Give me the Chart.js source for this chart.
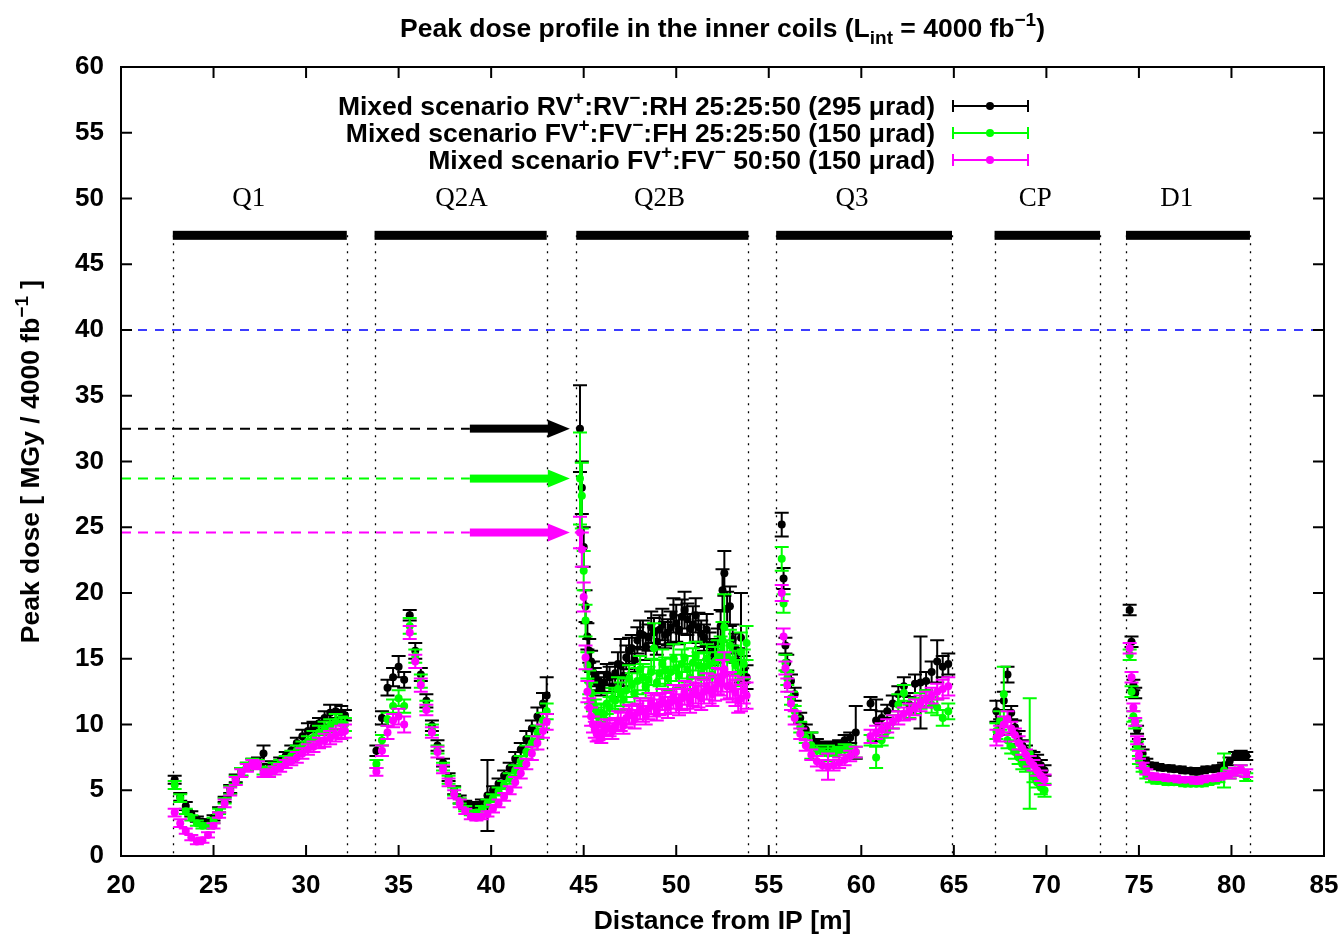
<!DOCTYPE html>
<html>
<head>
<meta charset="utf-8">
<script src="https://cdn.jsdelivr.net/npm/chart.js@4.4.0/dist/chart.umd.min.js"></script>
<style>
	html, body { margin: 0; padding: 0; background: #fff; }
	canvas { display: block; }
</style>
</head>
<body>
<canvas id="chart" width="1342" height="935"></canvas>
<script>
// distance from IP [m], one line per magnet (Q1, Q2A, Q2B, Q3, CP, D1)
const distance = [
	22.9, 23.2, 23.5, 23.8, 24.1, 24.4, 24.7, 25.0, 25.3, 25.6, 25.9, 26.2, 26.5, 26.8, 27.1, 27.4, 27.7, 28.0, 28.3, 28.6, 28.9, 29.2, 29.5, 29.8, 30.1, 30.4, 30.7, 31.0, 31.3, 31.6, 31.9, 32.1,
	33.8, 34.1, 34.4, 34.7, 35.0, 35.3, 35.6, 35.9, 36.2, 36.5, 36.8, 37.1, 37.4, 37.7, 38.0, 38.3, 38.6, 38.9, 39.2, 39.5, 39.8, 40.1, 40.4, 40.7, 41.0, 41.3, 41.6, 41.9, 42.2, 42.5, 42.8, 43.0,
	44.8, 44.9, 45.0, 45.1, 45.2, 45.3, 45.4, 45.5, 45.6, 45.7, 45.8,
	45.95, 46.1, 46.25, 46.4, 46.55, 46.7, 46.85, 47.0, 47.15, 47.3, 47.45, 47.6, 47.75, 47.9, 48.05, 48.2, 48.35, 48.5, 48.65, 48.8,
	48.95, 49.1, 49.25, 49.4, 49.55, 49.7, 49.85, 50.0, 50.15, 50.3, 50.45, 50.6, 50.75, 50.9, 51.05, 51.2, 51.35, 51.5, 51.65, 51.8,
	51.95, 52.1, 52.25, 52.4, 52.5, 52.6, 52.75, 52.9, 53.05, 53.2, 53.35, 53.5, 53.65, 53.8,
	55.7, 55.8, 55.9, 56.0, 56.2, 56.4, 56.7, 57.0, 57.3, 57.6, 57.9, 58.2, 58.5, 58.8, 59.1, 59.4, 59.7, 60.5, 60.8, 61.1, 61.4, 61.7, 62.0, 62.3, 62.6, 62.9, 63.2, 63.5, 63.8, 64.1, 64.4, 64.7,
	67.3, 67.5, 67.7, 67.9, 68.1, 68.3, 68.5, 68.7, 68.9, 69.1, 69.3, 69.5, 69.7, 69.9,
	74.5, 74.6, 74.7, 74.8, 74.9, 75.0, 75.2, 75.4, 75.7, 76.0, 76.3, 76.6, 76.9, 77.2, 77.5, 77.8, 78.1, 78.4, 78.7, 79.0, 79.3, 79.6, 79.9, 80.2, 80.5, 80.8,
];

// RV+:RV-:RH 25:25:50 (295 urad)
const rvDose = [
	5.8, 4.5, 3.8, 3.2, 2.8, 2.6, 2.6, 2.9, 3.5, 4.3, 5.1, 5.9, 6.4, 6.8, 7.1, 7.2, 7.8, 6.7, 6.9, 7.2, 7.6, 8.0, 8.6, 9.1, 9.5, 9.8, 10.1, 10.5, 10.9, 11.0, 10.9, 10.7,
	8.0, 10.5, 12.8, 13.6, 14.4, 13.4, 18.3, 15.6, 13.8, 11.8, 9.9, 8.4, 7.1, 6.0, 5.0, 4.3, 3.9, 3.8, 3.8, 4.0, 4.6, 5.0, 5.5, 6.1, 6.7, 7.4, 8.1, 8.9, 9.7, 10.6, 11.6, 12.2,
	32.5, 28.0, 23.5, 19.0, 16.7, 15.6, 14.8, 14.0, 13.6, 13.2, 13.3,
	12.9, 13.2, 13.8, 13.6, 12.8, 13.9, 14.6, 14.5, 13.7, 15.1, 15.6, 15.8, 14.9, 16.4, 16.9, 16.8, 15.9, 16.6, 17.4, 17.0,
	16.3, 17.2, 17.6, 16.8, 17.0, 17.4, 18.3, 17.7, 17.2, 18.2, 18.7, 18.0, 17.3, 17.6, 18.3, 17.4, 16.9, 16.6, 17.2, 16.0,
	15.4, 15.6, 16.3, 17.5, 20.2, 21.5, 18.8, 19.0, 16.5, 15.8, 14.8, 16.6, 14.2, 13.6,
	25.2, 21.1, 16.0, 14.7, 13.3, 12.3, 10.5, 9.6, 9.0, 8.6, 8.4, 8.3, 8.4, 8.5, 8.8, 9.0, 9.4, 11.6, 10.3, 10.5, 11.0, 11.6, 12.3, 12.9, 11.5, 13.1, 13.2, 13.3, 14.0, 14.8, 14.4, 14.6,
	11.0, 9.8, 11.8, 13.8, 10.9, 9.8, 9.0, 8.4, 8.0, 7.6, 7.5, 7.3, 6.9, 6.5,
	18.7, 16.3, 13.0, 12.4, 9.6, 8.6, 7.8, 7.2, 6.9, 6.8, 6.7, 6.7, 6.6, 6.6, 6.5, 6.5, 6.4, 6.5, 6.6, 6.6, 6.7, 6.9, 7.2, 7.6, 7.7, 7.6,
];
const rvErr = [
	0.3, 0.3, 0.3, 0.2, 0.2, 0.2, 0.2, 0.2, 0.2, 0.2, 0.3, 0.3, 0.3, 0.3, 0.3, 0.3, 0.6, 0.3, 0.3, 0.3, 0.3, 0.4, 0.4, 0.5, 0.6, 0.4, 0.4, 0.5, 0.6, 0.5, 0.5, 0.4,
	0.4, 0.5, 0.6, 0.7, 0.8, 0.6, 0.4, 0.6, 0.5, 0.5, 0.4, 0.4, 0.3, 0.3, 0.3, 0.3, 0.3, 0.3, 0.3, 0.3, 2.7, 0.3, 0.4, 0.4, 0.4, 0.5, 0.5, 0.6, 0.6, 0.7, 0.8, 1.4,
	3.3, 2.0, 1.5, 1.2, 1.0, 0.9, 0.8, 0.8, 0.7, 0.7, 0.7,
	0.7, 0.7, 0.8, 0.8, 0.7, 0.8, 0.9, 2.0, 0.8, 0.9, 1.0, 1.0, 0.9, 1.0, 1.0, 1.1, 1.0, 1.0, 1.2, 1.1,
	1.0, 1.1, 1.2, 1.0, 1.0, 1.2, 1.3, 1.4, 1.1, 1.3, 1.4, 1.2, 1.1, 1.4, 1.3, 1.1, 1.0, 1.0, 1.2, 1.0,
	0.9, 0.9, 1.0, 1.2, 1.6, 1.7, 1.3, 1.5, 1.1, 1.1, 1.0, 3.4, 1.0, 0.9,
	0.9, 0.8, 0.6, 0.6, 0.5, 0.5, 0.4, 0.4, 0.4, 0.3, 0.3, 0.3, 0.3, 0.3, 0.4, 0.4, 2.0, 0.5, 1.6, 0.5, 0.5, 0.6, 0.6, 0.7, 0.6, 0.7, 3.5, 0.7, 0.8, 1.6, 0.8, 0.8,
	0.8, 0.6, 0.7, 0.6, 0.5, 0.5, 0.5, 0.4, 0.4, 0.4, 0.4, 0.4, 0.4, 0.4,
	0.4, 0.4, 0.4, 0.4, 0.3, 0.3, 0.3, 0.2, 0.2, 0.2, 0.2, 0.2, 0.2, 0.2, 0.2, 0.2, 0.2, 0.2, 0.2, 0.2, 0.2, 0.2, 0.3, 0.3, 0.3, 0.3,
];

// FV+:FV-:FH 25:25:50 (150 urad)
const fvhDose = [
	5.4, 4.4, 3.4, 2.9, 2.5, 2.3, 2.3, 2.7, 3.4, 4.2, 5.0, 5.8, 6.4, 6.8, 7.1, 7.0, 6.5, 6.5, 6.8, 7.0, 7.3, 7.6, 8.0, 8.3, 8.7, 9.0, 9.4, 9.7, 9.9, 10.2, 10.1, 10.0,
	7.0, 8.8, 10.4, 11.4, 12.0, 11.4, 17.5, 15.2, 13.3, 11.4, 9.6, 8.1, 6.8, 5.8, 4.9, 4.2, 3.6, 3.3, 3.3, 3.6, 4.0, 4.4, 4.9, 5.4, 5.9, 6.5, 7.2, 7.9, 8.6, 9.4, 10.3, 11.0,
	28.7, 27.4, 21.7, 17.9, 14.5, 13.2, 12.4, 11.7, 11.2, 10.8, 10.6,
	10.9, 10.8, 11.6, 11.3, 12.0, 11.8, 12.7, 12.3, 11.9, 12.6, 13.5, 13.0, 12.4, 13.3, 14.2, 13.6, 12.9, 13.4, 14.0, 15.8,
	13.2, 13.9, 14.6, 14.1, 13.5, 14.0, 15.0, 14.3, 13.8, 14.6, 15.1, 14.2, 13.6, 14.7, 15.2, 14.5, 13.9, 14.4, 15.0, 14.5,
	13.8, 14.8, 15.3, 15.5, 16.4, 17.4, 15.2, 16.0, 14.9, 14.5, 13.9, 15.5, 14.6, 16.2,
	22.6, 19.2, 14.7, 13.5, 12.0, 11.0, 9.8, 9.0, 8.4, 8.0, 7.9, 7.8, 7.9, 8.0, 8.1, 8.0, 7.9, 8.8, 7.5, 8.8, 9.5, 10.2, 11.5, 12.4, 11.0, 11.4, 11.8, 12.0, 11.5, 11.3, 10.5, 11.0,
	9.5, 10.3, 12.3, 8.8, 8.3, 7.9, 7.5, 7.0, 6.8, 7.8, 6.0, 5.6, 5.2, 5.0,
	15.3, 12.5, 10.6, 10.0, 8.4, 7.3, 6.6, 6.1, 5.8, 5.7, 5.7, 5.6, 5.6, 5.6, 5.5, 5.5, 5.5, 5.5, 5.6, 5.7, 5.8, 6.5, 6.2, 6.4, 6.6, 6.0,
];
const fvhErr = [
	0.3, 0.3, 0.2, 0.2, 0.2, 0.2, 0.2, 0.2, 0.2, 0.2, 0.3, 0.3, 0.3, 0.3, 0.3, 0.3, 0.3, 0.3, 0.3, 0.3, 0.3, 0.4, 0.4, 0.4, 0.4, 0.5, 0.5, 0.5, 0.5, 0.6, 0.5, 0.5,
	0.3, 0.4, 0.5, 0.5, 0.6, 0.5, 0.6, 0.5, 0.5, 0.4, 0.4, 0.3, 0.3, 0.3, 0.3, 0.2, 0.2, 0.2, 0.2, 0.2, 0.3, 0.3, 0.3, 0.3, 0.4, 0.4, 0.4, 0.5, 0.5, 0.5, 0.6, 0.6,
	3.5, 2.5, 1.5, 1.2, 1.0, 0.9, 0.8, 0.7, 0.7, 0.7, 0.7,
	0.7, 0.7, 0.8, 0.8, 0.8, 0.8, 0.9, 0.9, 0.8, 0.9, 1.0, 0.9, 0.9, 1.0, 1.0, 1.0, 0.9, 1.0, 1.0, 1.9,
	0.9, 1.0, 1.1, 1.0, 0.9, 1.0, 1.1, 1.0, 1.0, 1.1, 1.1, 1.0, 1.0, 1.1, 1.1, 1.0, 1.0, 1.0, 1.1, 1.0,
	1.0, 1.1, 1.1, 1.2, 1.4, 2.5, 1.2, 1.2, 1.1, 1.1, 1.0, 1.5, 1.1, 1.3,
	0.9, 0.7, 0.6, 0.5, 0.5, 0.4, 0.4, 0.4, 1.0, 0.4, 0.3, 0.6, 0.3, 0.3, 0.4, 0.4, 0.4, 0.4, 0.8, 0.4, 0.5, 0.5, 0.8, 0.6, 0.5, 0.6, 0.6, 0.6, 0.6, 0.6, 0.6, 0.6,
	0.6, 0.7, 2.1, 0.6, 0.5, 0.5, 0.5, 0.4, 0.4, 4.2, 0.4, 0.4, 0.5, 0.5,
	0.4, 0.4, 0.4, 0.3, 0.3, 0.3, 0.2, 0.2, 0.2, 0.2, 0.2, 0.2, 0.2, 0.2, 0.2, 0.2, 0.2, 0.2, 0.2, 0.2, 0.2, 1.3, 0.3, 0.3, 0.3, 0.3,
];

// FV+:FV- 50:50 (150 urad)
const fvDose = [
	3.3, 2.5, 1.9, 1.4, 1.1, 1.2, 1.6, 2.3, 3.1, 4.0, 4.9, 5.7, 6.3, 6.7, 7.0, 6.9, 6.3, 6.3, 6.5, 6.7, 7.0, 7.2, 7.5, 7.8, 8.1, 8.3, 8.6, 8.8, 9.0, 9.2, 9.4, 9.5,
	6.4, 8.0, 9.4, 10.3, 10.6, 10.0, 17.0, 14.8, 13.0, 11.1, 9.4, 7.9, 6.6, 5.6, 4.7, 4.0, 3.4, 3.0, 2.9, 3.0, 3.2, 3.6, 4.0, 4.5, 5.0, 5.6, 6.3, 7.0, 7.8, 8.6, 9.5, 10.2,
	24.6, 23.3, 19.7, 15.1, 12.5, 11.3, 10.6, 10.0, 9.6, 9.3, 9.4,
	9.2, 9.5, 9.8, 9.7, 9.5, 9.9, 10.3, 10.2, 9.9, 10.5, 10.8, 10.7, 10.4, 10.9, 11.2, 11.0, 10.7, 11.2, 11.6, 11.4,
	11.1, 11.5, 11.9, 11.6, 11.3, 11.7, 12.1, 11.8, 11.5, 12.0, 12.4, 12.1, 11.8, 12.3, 12.6, 12.2, 12.0, 12.5, 12.9, 12.6,
	12.3, 12.8, 13.3, 13.2, 13.7, 14.2, 12.9, 13.0, 12.7, 12.4, 11.8, 12.0, 12.6, 12.2,
	20.0, 16.7, 14.3, 13.0, 11.6, 10.5, 9.3, 8.4, 7.7, 7.2, 6.9, 6.8, 6.9, 7.1, 7.3, 7.6, 7.9, 9.1, 9.4, 9.6, 9.9, 10.2, 10.5, 10.8, 11.0, 11.3, 11.6, 11.9, 12.2, 12.5, 12.7, 12.9,
	9.0, 9.3, 10.0, 10.4, 9.7, 9.2, 8.6, 8.2, 7.7, 7.2, 6.9, 6.5, 6.1, 5.8,
	15.8, 13.6, 11.3, 10.2, 8.8, 7.7, 6.9, 6.4, 6.1, 6.0, 6.0, 5.9, 5.9, 5.8, 5.8, 5.8, 5.7, 5.8, 5.9, 5.9, 6.0, 6.1, 6.2, 6.4, 6.6, 6.3,
];
const fvErr = [
	0.3, 0.3, 0.2, 0.2, 0.2, 0.2, 0.2, 0.2, 0.2, 0.3, 0.3, 0.3, 0.3, 0.3, 0.3, 0.3, 0.3, 0.3, 0.3, 0.3, 0.3, 0.3, 0.4, 0.4, 0.4, 0.4, 0.4, 0.5, 0.5, 0.5, 0.5, 0.5,
	0.3, 0.4, 0.5, 0.5, 0.6, 0.6, 0.5, 0.5, 0.5, 0.4, 0.4, 0.4, 0.3, 0.3, 0.3, 0.3, 0.2, 0.2, 0.2, 0.2, 0.2, 0.3, 0.3, 0.3, 0.3, 0.4, 0.4, 0.4, 0.5, 0.5, 0.5, 0.6,
	1.2, 1.3, 1.1, 0.9, 0.8, 0.7, 0.7, 0.6, 0.6, 0.6, 0.6,
	0.6, 0.6, 0.6, 0.6, 0.6, 0.6, 0.7, 0.7, 0.6, 0.7, 0.7, 0.7, 0.7, 0.7, 0.8, 0.8, 0.7, 0.8, 0.8, 0.8,
	0.8, 0.8, 0.8, 0.8, 0.8, 0.8, 0.9, 0.9, 0.8, 0.9, 0.9, 0.9, 0.9, 0.9, 1.0, 0.9, 0.9, 0.9, 1.0, 1.0,
	0.9, 1.0, 1.0, 1.0, 1.2, 1.3, 1.0, 1.0, 1.0, 1.0, 0.9, 1.0, 1.0, 1.0,
	0.6, 0.6, 0.5, 0.5, 0.5, 0.5, 0.4, 0.4, 0.4, 0.4, 0.4, 1.0, 0.4, 0.4, 0.4, 0.4, 0.4, 0.5, 0.5, 0.5, 0.5, 0.5, 0.5, 0.5, 0.6, 0.6, 0.6, 0.6, 0.6, 0.6, 0.7, 0.7,
	0.6, 0.6, 0.6, 0.6, 0.5, 0.5, 0.5, 0.5, 0.4, 0.4, 0.4, 0.4, 0.4, 0.4,
	0.4, 0.4, 0.3, 0.3, 0.3, 0.3, 0.2, 0.2, 0.2, 0.2, 0.2, 0.2, 0.2, 0.2, 0.2, 0.2, 0.2, 0.2, 0.2, 0.2, 0.2, 0.2, 0.3, 0.3, 0.3, 0.3,
];

// magnet layout along the beam line
const magnetNames = ["Q1", "Q2A", "Q2B", "Q3", "CP", "D1"];
const magnetStart = [22.8, 33.7, 44.6, 55.4, 67.2, 74.3];
const magnetEnd = [32.2, 43.0, 53.9, 64.9, 72.9, 81.0];
const magnetLabelAt = [26.9, 38.4, 49.1, 59.5, 69.4, 77.05];

const doseLimit = 40;
const xTicks = [20, 25, 30, 35, 40, 45, 50, 55, 60, 65, 70, 75, 80, 85];
const yTicks = [0, 5, 10, 15, 20, 25, 30, 35, 40, 45, 50, 55, 60];

const FONT = '"Liberation Sans", Arial, sans-serif';
const TEXT_SIZE = 26.5;
const BLACK = "#000000";
const GREEN = "#00ff00";
const MAGENTA = "#ff00ff";

const legendRows = [
	{ color: BLACK, parts: [["Mixed scenario RV", ""], ["+", "sup"], [":RV", ""], ["\u2212", "sup"], [":RH 25:25:50 (295 \u03bcrad)", ""]] },
	{ color: GREEN, parts: [["Mixed scenario FV", ""], ["+", "sup"], [":FV", ""], ["\u2212", "sup"], [":FH 25:25:50 (150 \u03bcrad)", ""]] },
	{ color: MAGENTA, parts: [["Mixed scenario FV", ""], ["+", "sup"], [":FV", ""], ["\u2212", "sup"], [" 50:50 (150 \u03bcrad)", ""]] },
];

const toPoints = (dose, err) => distance.map((x, i) => ({ x, y: dose[i], err: err[i] }));

// text with superscripts / subscripts, bold sans
const drawRich = (ctx, parts, x, y, size, align) => {
	const fontOf = kind => `bold ${kind ? Math.round(size * 0.7) : size}px ${FONT}`;
	let width = 0;
	parts.forEach(([t, kind]) => {
		ctx.font = fontOf(kind);
		width += ctx.measureText(t).width;
	});
	let cx = align === "right" ? x - width : align === "center" ? x - width / 2 : x;
	ctx.textAlign = "left";
	ctx.textBaseline = "alphabetic";
	parts.forEach(([t, kind]) => {
		ctx.font = fontOf(kind);
		const dy = kind === "sup" ? -size * 0.42 : kind === "sub" ? size * 0.28 : 0;
		ctx.fillText(t, cx, y + dy);
		cx += ctx.measureText(t).width;
	});
};

const errorBars = {
	id: "errorBars",
	beforeDatasetDraw(chart, args) {
		const ds = chart.data.datasets[args.index];
		const yScale = chart.scales.y;
		const area = chart.chartArea;
		const ctx = chart.ctx;
		ctx.save();
		ctx.beginPath();
		ctx.rect(area.left, area.top, area.right - area.left, area.bottom - area.top);
		ctx.clip();
		ctx.strokeStyle = ds.borderColor;
		ctx.lineWidth = 2;
		ctx.beginPath();
		ds.data.forEach((pt, i) => {
			const px = args.meta.data[i].x;
			const top = yScale.getPixelForValue(pt.y + pt.err);
			const bot = yScale.getPixelForValue(pt.y - pt.err);
			ctx.moveTo(px, top);
			ctx.lineTo(px, bot);
			ctx.moveTo(px - 7, top);
			ctx.lineTo(px + 7, top);
			ctx.moveTo(px - 7, bot);
			ctx.lineTo(px + 7, bot);
		});
		ctx.stroke();
		ctx.restore();
	},
};

const beamLine = {
	id: "beamLine",
	beforeDatasetsDraw(chart) {
		const { ctx, chartArea: area, scales } = chart;
		const xs = scales.x;
		const ys = scales.y;
		ctx.save();

		// design limit
		ctx.strokeStyle = "#3c3cff";
		ctx.lineWidth = 2;
		ctx.setLineDash([9, 8]);
		ctx.beginPath();
		ctx.moveTo(area.left, ys.getPixelForValue(doseLimit));
		ctx.lineTo(area.right, ys.getPixelForValue(doseLimit));
		ctx.stroke();

		// magnet extents
		const barY = ys.getPixelForValue(47.2);
		ctx.strokeStyle = "#000";
		ctx.lineWidth = 1.3;
		ctx.setLineDash([2, 6]);
		magnetNames.forEach((name, i) => {
			[magnetStart[i], magnetEnd[i]].forEach(v => {
				const px = Math.round(xs.getPixelForValue(v)) + 0.5;
				ctx.beginPath();
				ctx.moveTo(px, barY);
				ctx.lineTo(px, area.bottom);
				ctx.stroke();
			});
		});
		ctx.setLineDash([]);
		ctx.fillStyle = "#000";
		ctx.font = '27px "Liberation Serif", "DejaVu Serif", serif';
		ctx.textAlign = "center";
		ctx.textBaseline = "middle";
		magnetNames.forEach((name, i) => {
			const x0 = xs.getPixelForValue(magnetStart[i]);
			const x1 = xs.getPixelForValue(magnetEnd[i]);
			ctx.fillRect(x0, barY - 4.5, x1 - x0, 9);
			ctx.fillText(name, xs.getPixelForValue(magnetLabelAt[i]), ys.getPixelForValue(50));
		});

		// peak markers pointing at the Q2B entrance
		const dashEnd = xs.getPixelForValue(38.85);
		const tip = xs.getPixelForValue(44.25);
		[[rvDose, BLACK], [fvhDose, GREEN], [fvDose, MAGENTA]].forEach(([dose, color]) => {
			const py = ys.getPixelForValue(Math.max(...dose));
			ctx.strokeStyle = color;
			ctx.fillStyle = color;
			ctx.lineWidth = 2;
			ctx.setLineDash([10, 7]);
			ctx.beginPath();
			ctx.moveTo(area.left, py);
			ctx.lineTo(dashEnd, py);
			ctx.stroke();
			ctx.setLineDash([]);
			ctx.fillRect(dashEnd, py - 4, tip - 20 - dashEnd, 8);
			ctx.beginPath();
			ctx.moveTo(tip - 22, py - 9);
			ctx.lineTo(tip, py);
			ctx.lineTo(tip - 22, py + 9);
			ctx.closePath();
			ctx.fill();
		});
		ctx.restore();
	},
};

const frame = {
	id: "frame",
	afterDraw(chart) {
		const { ctx, chartArea: area, scales } = chart;
		const xs = scales.x;
		const ys = scales.y;
		ctx.save();
		ctx.strokeStyle = "#000";
		ctx.lineWidth = 2;
		ctx.strokeRect(area.left, area.top, area.right - area.left, area.bottom - area.top);

		// inward ticks on all four sides
		ctx.beginPath();
		xTicks.forEach(v => {
			const px = xs.getPixelForValue(v);
			ctx.moveTo(px, area.bottom);
			ctx.lineTo(px, area.bottom - 11);
			ctx.moveTo(px, area.top);
			ctx.lineTo(px, area.top + 11);
		});
		yTicks.forEach(v => {
			const py = ys.getPixelForValue(v);
			ctx.moveTo(area.left, py);
			ctx.lineTo(area.left + 11, py);
			ctx.moveTo(area.right, py);
			ctx.lineTo(area.right - 11, py);
		});
		ctx.stroke();

		ctx.fillStyle = "#000";
		const midX = (area.left + area.right) / 2;
		drawRich(ctx, [["Peak dose profile in the inner coils (L", ""], ["int", "sub"], [" = 4000 fb", ""], ["\u22121", "sup"], [")", ""]], midX, 37, TEXT_SIZE, "center");
		drawRich(ctx, [["Distance from IP [m]", ""]], midX, 929, TEXT_SIZE, "center");

		ctx.save();
		ctx.translate(39, (area.top + area.bottom) / 2);
		ctx.rotate(-Math.PI / 2);
		drawRich(ctx, [["Peak dose [ MGy / 4000 fb", ""], ["\u22121", "sup"], [" ]", ""]], 0, 0, TEXT_SIZE, "center");
		ctx.restore();

		// legend
		legendRows.forEach((row, i) => {
			const cy = 106 + i * 27;
			ctx.fillStyle = "#000";
			drawRich(ctx, row.parts, 935, cy + 9, TEXT_SIZE, "right");
			ctx.strokeStyle = row.color;
			ctx.fillStyle = row.color;
			ctx.lineWidth = 2;
			ctx.beginPath();
			ctx.moveTo(953, cy);
			ctx.lineTo(1028, cy);
			ctx.moveTo(953, cy - 6);
			ctx.lineTo(953, cy + 6);
			ctx.moveTo(1028, cy - 6);
			ctx.lineTo(1028, cy + 6);
			ctx.stroke();
			ctx.beginPath();
			ctx.arc(990, cy, 4, 0, Math.PI * 2);
			ctx.fill();
		});
		ctx.restore();
	},
};

const makeSet = (label, dose, err, color, order) => ({
	label,
	data: toPoints(dose, err),
	borderColor: color,
	backgroundColor: color,
	pointRadius: 4,
	pointBorderWidth: 0,
	pointHoverRadius: 4,
	showLine: false,
	order,
});

const tickFont = { family: FONT, size: 26, weight: "bold" };

new Chart(document.querySelector("#chart"), {
	type: "scatter",
	data: {
		datasets: [
			makeSet("Mixed scenario RV+:RV\u2212:RH 25:25:50 (295 \u03bcrad)", rvDose, rvErr, BLACK, 3),
			makeSet("Mixed scenario FV+:FV\u2212:FH 25:25:50 (150 \u03bcrad)", fvhDose, fvhErr, GREEN, 2),
			makeSet("Mixed scenario FV+:FV\u2212 50:50 (150 \u03bcrad)", fvDose, fvErr, MAGENTA, 1),
		],
	},
	options: {
		responsive: false,
		animation: false,
		events: [],
		layout: { padding: { top: 67, right: 18, left: 0, bottom: 0 } },
		plugins: { legend: { display: false }, title: { display: false }, tooltip: { enabled: false } },
		scales: {
			x: {
				type: "linear",
				min: 20,
				max: 85,
				afterBuildTicks: s => { s.ticks = xTicks.map(value => ({ value })); },
				ticks: { color: "#000", font: tickFont, padding: 14, maxRotation: 0, autoSkip: false },
				grid: { display: false, drawTicks: false },
				border: { display: false },
				afterFit: s => {
					s.height = 79;
					s.paddingLeft = 0;
					s.paddingRight = 0;
				},
			},
			y: {
				min: 0,
				max: 60,
				afterBuildTicks: s => { s.ticks = yTicks.map(value => ({ value })); },
				ticks: { color: "#000", font: tickFont, padding: 17, autoSkip: false },
				grid: { display: false, drawTicks: false },
				border: { display: false },
				afterFit: s => {
					s.width = 121;
					s.paddingTop = 0;
					s.paddingBottom = 0;
				},
			},
		},
	},
	plugins: [errorBars, beamLine, frame],
});
</script>
</body>
</html>
